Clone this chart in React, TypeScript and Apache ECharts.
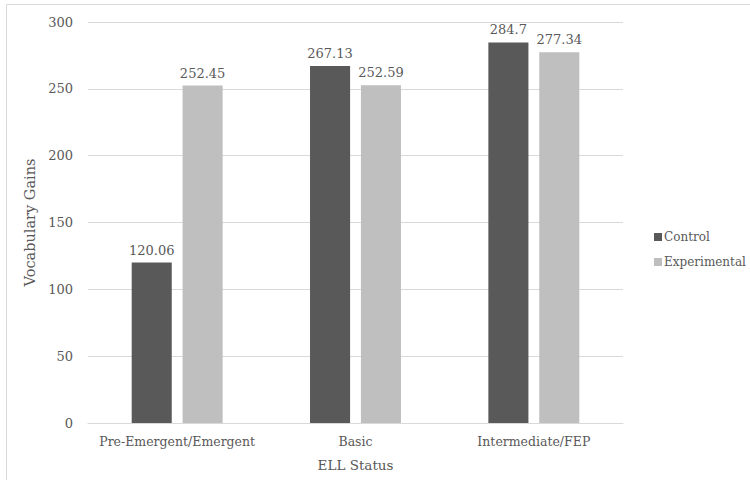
import React, { useEffect, useRef } from "react";
import * as echarts from "echarts";

const categories = ["Pre-Emergent/Emergent", "Basic", "Intermediate/FEP"];
const controlValues = [120.06, 267.13, 284.7];
const experimentalValues = [252.45, 252.59, 277.34];
const seriesNames = ["Control", "Experimental"];

const FONT = "'DejaVu Serif', serif";
const TEXT = "#595959";

export default function App() {
  const ref = useRef<HTMLDivElement>(null);

  useEffect(() => {
    if (!ref.current) return;
    const chart = echarts.init(ref.current, undefined, { renderer: "svg" });
    const label = {
      show: true,
      position: "top" as const,
      distance: 6,
      color: TEXT,
      fontFamily: FONT,
      fontSize: 13,
    };
    chart.setOption({
      animation: false,
      backgroundColor: "#ffffff",
      textStyle: { fontFamily: FONT, color: TEXT },
      graphic: [
        {
          // left and top edges of the chart frame
          type: "polyline",
          shape: {
            points: [
              [6.5, 480],
              [6.5, 4.5],
              [750, 4.5],
            ],
          },
          style: { fill: "none", stroke: "#d9d9d9", lineWidth: 1 },
          silent: true,
        },
      ],
      grid: { left: 88, right: 127, top: 22, bottom: 60 },
      legend: {
        orient: "vertical",
        left: 649,
        top: 226,
        icon: "rect",
        itemWidth: 8,
        itemHeight: 8,
        itemGap: 13,
        textStyle: {
          color: TEXT,
          fontFamily: FONT,
          fontSize: 12,
          padding: [0, 0, 0, -3],
        },
        data: seriesNames,
      },
      xAxis: {
        type: "category",
        data: categories,
        name: "ELL Status",
        nameLocation: "middle",
        nameGap: 35,
        nameTextStyle: { color: TEXT, fontFamily: FONT, fontSize: 13.5 },
        axisLine: { lineStyle: { color: "#d9d9d9", width: 1 } },
        axisTick: { show: false },
        axisLabel: {
          interval: 0,
          color: TEXT,
          fontFamily: FONT,
          fontSize: 12.5,
          margin: 12,
        },
      },
      yAxis: {
        type: "value",
        min: 0,
        max: 300,
        interval: 50,
        name: "Vocabulary Gains",
        nameLocation: "middle",
        nameGap: 47,
        nameTextStyle: { color: TEXT, fontFamily: FONT, fontSize: 14.5 },
        axisLine: { show: false },
        axisTick: { show: false },
        splitLine: { lineStyle: { color: "#d9d9d9", width: 1 } },
        axisLabel: { color: TEXT, fontFamily: FONT, fontSize: 13, margin: 15 },
      },
      series: [
        {
          name: seriesNames[0],
          type: "bar",
          data: controlValues,
          itemStyle: { color: "#595959" },
          barGap: "27%",
          barCategoryGap: "49%",
          label,
        },
        {
          name: seriesNames[1],
          type: "bar",
          data: experimentalValues,
          itemStyle: { color: "#bfbfbf" },
          barGap: "27%",
          barCategoryGap: "49%",
          label,
        },
      ],
    });
    return () => chart.dispose();
  }, []);

  return (
    <div
      ref={ref}
      style={{ position: "fixed", left: 0, top: 0, width: 750, height: 483 }}
    />
  );
}
